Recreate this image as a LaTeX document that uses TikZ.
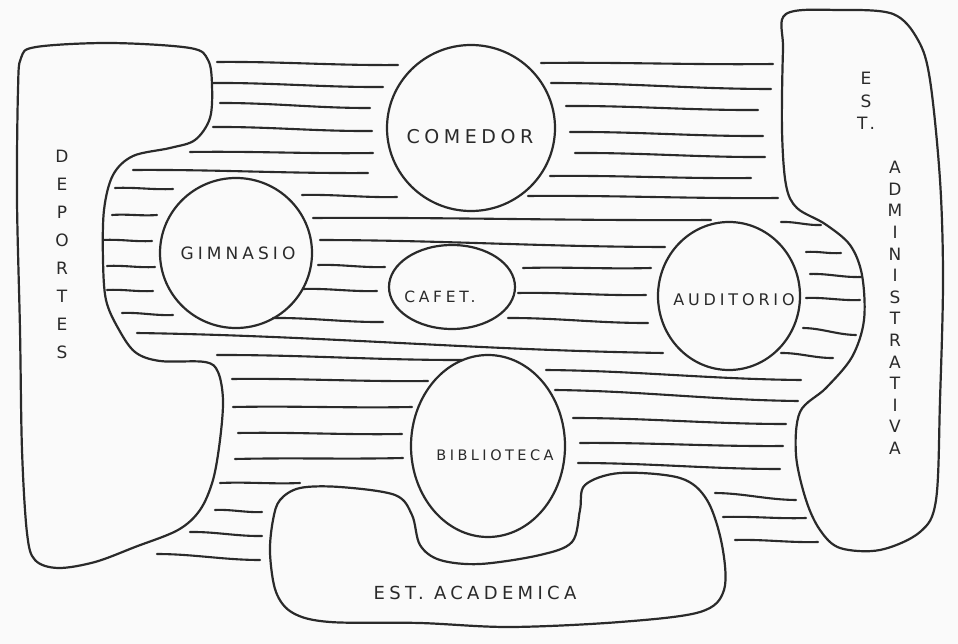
\documentclass[tikz,border=0pt]{standalone}
\usepackage{fontspec}
\usetikzlibrary{shapes.geometric}
\newfontfamily\hand[LetterSpace=24]{DejaVu Sans}
\definecolor{ink}{HTML}{2A2A2A}
\definecolor{paper}{HTML}{FAFAFA}
\tikzset{
  outline/.style={draw=ink, line width=2.2pt, line join=round, line cap=round},
  hatch/.style={draw=ink, line width=2.1pt, line cap=round},
  room/.style={ellipse, draw=ink, line width=2.2pt, inner sep=0pt},
  lbl/.style={text=ink, inner sep=0pt, font=\hand\fontsize{#1}{#1}\selectfont},
  vlbl/.style={text=ink, inner sep=0pt, align=center, font=\hand\fontsize{17}{#1}\selectfont}
}
\begin{document}
\begin{tikzpicture}[x=1pt,y=-1pt]
\useasboundingbox (0,0) rectangle (958,644);
\fill[paper] (0,0) rectangle (958,644);

% DEPORTES zone
\draw[outline] plot[smooth cycle, tension=0.55] coordinates {
 (36,47) (110,43) (190,48) (208,60) (212,85) (210,118) (195,140) (170,148)
 (133,156) (113,175) (104,210) (103,260) (106,300) (118,328) (135,352)
 (160,361) (205,362) (218,372) (223,400) (220,440) (213,480) (200,510)
 (178,530) (135,547) (95,562) (58,568) (35,560) (27,533) (22,450) (20,330)
 (17,200) (18,90) (21,58)};

% EST. ADMINISTRATIVA zone
\draw[outline] plot[smooth cycle, tension=0.55] coordinates {
 (786,14) (840,10) (893,14) (918,40) (930,80) (940,180) (943,280) (940,400)
 (936,500) (920,532) (880,550) (840,548) (820,530) (806,500) (796,455)
 (800,412) (826,388) (852,357) (864,320) (862,275) (850,245) (825,224)
 (797,208) (786,185) (782,130) (783,50)};

% EST. ACADEMICA zone
\draw[outline] plot[smooth cycle, tension=0.55] coordinates {
 (280,500) (300,488) (340,487) (395,495) (412,515) (420,545) (440,560)
 (480,564) (540,555) (572,542) (580,510) (585,485) (620,473) (680,478)
 (707,500) (722,545) (724,590) (700,612) (620,622) (510,627) (420,623)
 (330,622) (293,613) (276,592) (270,553) (273,520)};

% rooms
\node[room, minimum width=168pt, minimum height=166pt] (comedor) at (471,128) {};
\node[room, minimum width=152pt, minimum height=150pt] (gimnasio) at (236,253) {};
\node[room, minimum width=126pt, minimum height=84pt] (cafet) at (452,287) {};
\node[room, minimum width=142pt, minimum height=148pt] (auditorio) at (729,296) {};
\node[room, minimum width=154pt, minimum height=182pt] (biblio) at (488,446) {};

% hatching
\foreach \a/\b/\c/\d in {
 217/62/398/65, 213/83/383/87, 220/103/370/108, 213/127/372/131,
 190/152/373/153, 133/170/368/173, 115/188/173/189, 112/215/157/215,
 103/240/152/241, 107/266/155/267, 107/290/153/291, 122/313/173/315,
 302/195/397/197, 313/218/711/220, 320/240/665/247, 318/265/385/267,
 303/289/377/291, 273/318/383/322,
 541/63/773/64, 551/83/771/89, 566/106/758/110, 570/132/763/136,
 575/153/765/157, 550/176/751/178, 528/196/778/198, 781/222/821/225,
 523/268/651/268, 518/293/646/295, 508/318/648/323,
 806/252/841/253, 810/274/861/277, 806/298/860/300, 803/328/856/335,
 781/353/833/358,
 137/333/663/353, 217/355/463/360, 232/379/428/381, 233/407/412/407,
 238/433/402/434, 235/459/403/458, 220/483/300/483, 215/510/262/512,
 190/532/262/536, 157/554/260/560,
 546/370/801/380, 555/390/798/401, 573/418/786/424, 580/443/783/446,
 578/463/780/469, 715/493/796/500, 723/517/806/518, 735/540/818/542}
 {\draw[hatch] (\a,\b) .. controls ({\a+0.35*(\c-\a)},{\b+0.2*(\d-\b)-1.2}) and ({\a+0.65*(\c-\a)},{\b+0.8*(\d-\b)+1.2}) .. (\c,\d);}

% labels
\node[lbl=19] (tcomedor) at (470,137) {COMEDOR};
\node[lbl=17] (tgimnasio) at (238,253) {GIMNASIO};
\node[lbl=15.5] (tcafet) at (440,297) {CAFET.};
\node[lbl=16] (tauditorio) at (734,300) {AUDITORIO};
\node[lbl=14.5] (tbiblio) at (495,455) {BIBLIOTECA};
\node[lbl=18] (tacademica) at (475,593) {EST.\ ACADEMICA};
\node[vlbl=28] (tdeportes) at (62,254) {D\\E\\P\\O\\R\\T\\E\\S};
\node[vlbl=22.5] (test) at (866,101) {E\\S\\T.};
\node[vlbl=21.6] (tadmin) at (895,308) {A\\D\\M\\I\\N\\I\\S\\T\\R\\A\\T\\I\\V\\A};
\end{tikzpicture}
\end{document}
